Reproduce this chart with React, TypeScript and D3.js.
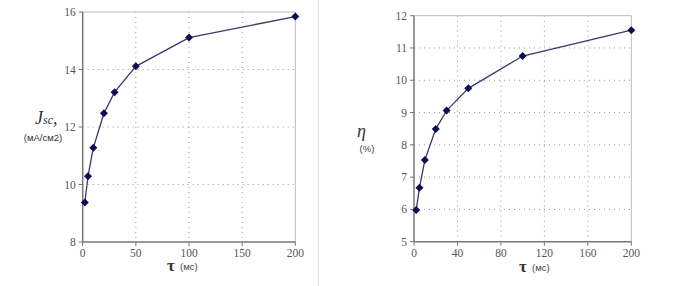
import React from "react";
import * as d3 from "d3";

const tau = [2, 5, 10, 20, 30, 50, 100, 200];
const jsc = [9.37, 10.29, 11.28, 12.48, 13.21, 14.11, 15.11, 15.84];
const eta = [5.98, 6.67, 7.53, 8.49, 9.06, 9.75, 10.75, 11.55];

const leftXTicks = [0, 50, 100, 150, 200];
const leftYTicks = [8, 10, 12, 14, 16];
const rightXTicks = [0, 40, 80, 120, 160, 200];
const rightYTicks = [5, 6, 7, 8, 9, 10, 11, 12];

type PanelProps = {
  x0: number; x1: number; y0: number; y1: number;
  yDomain: [number, number];
  xTicks: number[]; yTicks: number[];
  values: number[];
  rightBorder: boolean;
};

const serif = "'Liberation Serif', 'DejaVu Serif', serif";
const sans = "'Liberation Sans', Arial, sans-serif";

function Panel({ x0, x1, y0, y1, yDomain, xTicks, yTicks, values, rightBorder }: PanelProps) {
  const x = d3.scaleLinear().domain([0, 200]).range([x0, x1]);
  const y = d3.scaleLinear().domain(yDomain).range([y1, y0]);
  const line = d3.line<number>().x((_, i) => x(tau[i])).y((d) => y(d));
  const r = 4;
  const diamond = `M0,${-r}L${r},0L0,${r}L${-r},0Z`;
  return (
    <g>
      {xTicks.slice(1, -1).map((t) => (
        <line key={"gx" + t} x1={x(t)} x2={x(t)} y1={y0} y2={y1} stroke="#999" strokeWidth={1} strokeDasharray="1,4" />
      ))}
      {yTicks.slice(1, -1).map((t) => (
        <line key={"gy" + t} x1={x0} x2={x1} y1={y(t)} y2={y(t)} stroke="#999" strokeWidth={1} strokeDasharray="1,4" />
      ))}
      <line x1={x0} x2={x1} y1={y0} y2={y0} stroke="#bbb" strokeWidth={1} />
      {rightBorder && <line x1={x1} x2={x1} y1={y0} y2={y1} stroke="#bbb" strokeWidth={1} />}
      <line x1={x0} x2={x0} y1={y0} y2={y1} stroke="#777" strokeWidth={1.5} />
      <line x1={x0} x2={x1} y1={y1} y2={y1} stroke="#777" strokeWidth={1.5} />
      {yTicks.map((t) => (
        <g key={"ty" + t}>
          <line x1={x0 - 4} x2={x0} y1={y(t)} y2={y(t)} stroke="#777" />
          <text x={x0 - 7} y={y(t)} dy="0.35em" textAnchor="end" fontFamily={serif} fontSize={11.5} fill="#555">{t}</text>
        </g>
      ))}
      {xTicks.map((t) => (
        <g key={"tx" + t}>
          <line x1={x(t)} x2={x(t)} y1={y1} y2={y1 + 4} stroke="#777" />
          <text x={x(t)} y={y1 + 15} textAnchor="middle" fontFamily={serif} fontSize={11.5} fill="#555">{t}</text>
        </g>
      ))}
      <path d={line(values) || ""} fill="none" stroke="#3a3a6a" strokeWidth={1.3} />
      {values.map((v, i) => (
        <path key={"m" + i} d={diamond} transform={`translate(${x(tau[i])},${y(v)})`} fill="#0d0d55" />
      ))}
    </g>
  );
}

export default function App() {
  return (
    <svg width={674} height={286} style={{ position: "absolute", left: 0, top: 0, background: "#fff" }}>
      <rect width={674} height={286} fill="#fff" />
      <line x1={318.5} x2={318.5} y1={0} y2={286} stroke="#e2e2e2" strokeWidth={1} />
      <Panel x0={82.7} x1={295.3} y0={12} y1={242} yDomain={[8, 16]} xTicks={leftXTicks} yTicks={leftYTicks} values={jsc} rightBorder={true} />
      <Panel x0={414} x1={631.3} y0={15.7} y1={241.7} yDomain={[5, 12]} xTicks={rightXTicks} yTicks={rightYTicks} values={eta} rightBorder={true} />
      <text x={35} y={124} fontFamily={serif} fontStyle="italic" fontSize={18} fill="#333">J<tspan fontSize={12}>sc</tspan>,</text>
      <text x={43} y={141} textAnchor="middle" fontFamily={sans} fontSize={9.5} fill="#333">(мА/см2)</text>
      <text x={167} y={271} fontFamily={serif} fontWeight="bold" fontSize={17} fill="#333">τ</text>
      <text x={180} y={270} fontFamily={sans} fontSize={9.5} fill="#444">(мс)</text>
      <text x={357} y={137} fontFamily={serif} fontStyle="italic" fontSize={18} fill="#333">η</text>
      <text x={367} y={152} textAnchor="middle" fontFamily={sans} fontSize={9.5} fill="#444">(%)</text>
      <text x={519} y={272} fontFamily={serif} fontWeight="bold" fontSize={17} fill="#333">τ</text>
      <text x={532} y={271} fontFamily={sans} fontSize={9.5} fill="#444">(мс)</text>
    </svg>
  );
}
